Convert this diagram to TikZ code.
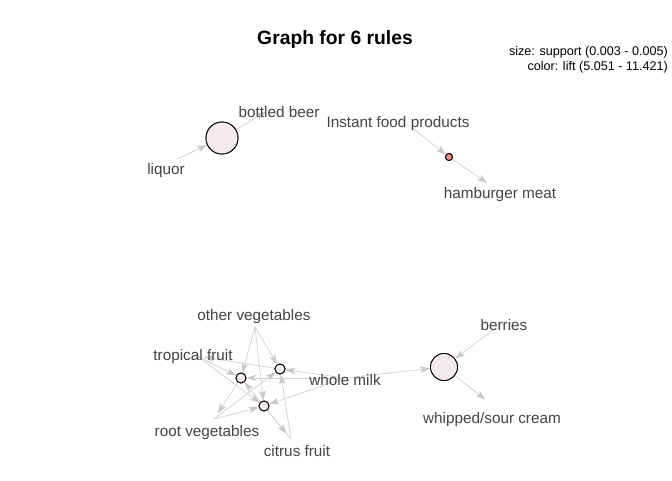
\documentclass[tikz,border=0pt]{standalone}
\usepackage{fontspec}
\setmainfont{Liberation Sans}
\usetikzlibrary{arrows.meta}
\definecolor{edgegray}{HTML}{D3D3D3}
\definecolor{tipgray}{HTML}{C8C8C8}
\definecolor{labgray}{HTML}{444444}
\definecolor{rulefill}{HTML}{F4ECEC}
\definecolor{hotfill}{HTML}{F08C8C}
\tikzset{
  rulenode/.style={circle,draw=black,line width=0.9pt,fill=rulefill,inner sep=0pt,minimum size=#1},
  itemlab/.style={text=labgray,font=\fontsize{15.3}{17}\selectfont,inner sep=0pt,yshift=-2pt},
  legendtxt/.style={font=\fontsize{12.6}{14}\selectfont,anchor=east,inner sep=0pt},
  edge/.style={draw=edgegray,line width=0.75pt,-{Stealth[length=10pt,width=6.5pt,inset=2.5pt,fill=tipgray,color=tipgray]}},
  outedge/.style={edge,shorten >=7pt},
}
\begin{document}
\begin{tikzpicture}[x=1pt,y=-1pt]
\useasboundingbox (0,0) rectangle (672,480);
\fill[white] (0,0) rectangle (672,480);
% title and legend
\node[font=\bfseries\fontsize{19.3}{21}\selectfont] (title) at (335,40) {Graph for 6 rules};
\node[legendtxt] (leg1) at (668,52) {size: support (0.003 - 0.005)};
\node[legendtxt] (leg2) at (668,67) {color: lift (5.051 - 11.421)};
% rule vertices
\node[rulenode=32pt] (A) at (222,138) {};
\node[rulenode=7pt,fill=hotfill] (B) at (449,157) {};
\node[rulenode=27pt] (C) at (444,367) {};
\node[rulenode=10pt] (R1) at (280,369) {};
\node[rulenode=10pt] (R2) at (241,378) {};
\node[rulenode=10pt] (R3) at (264,406) {};
% item vertices
\coordinate (vliq) at (177,159);
\coordinate (vbeer) at (272,108);
\coordinate (vinst) at (411,127);
\coordinate (vham) at (493,187);
\coordinate (vber) at (493,330);
\coordinate (vwhip) at (491,404);
\coordinate (vov) at (255,327);
\coordinate (vtrop) at (197,356);
\coordinate (vwm) at (345,378);
\coordinate (vroot) at (214,419);
\coordinate (vcit) at (291,439);
% edges
\draw[edge] (vliq) -- (A);
\draw[outedge] (A) -- (vbeer);
\draw[edge] (vinst) -- (B);
\draw[outedge] (B) -- (vham);
\draw[edge] (vber) -- (C);
\draw[edge] (vwm) -- (C);
\draw[outedge] (C) -- (vwhip);
% rule 1: {other veg, root veg, citrus, whole milk} -> tropical fruit
\draw[edge] (vov) -- (R1);
\draw[edge] (vroot) -- (R1);
\draw[edge] (vcit) -- (R1);
\draw[edge] (vwm) -- (R1);
\draw[outedge] (R1) -- (vtrop);
% rule 2: {other veg, tropical, citrus, whole milk} -> root veg
\draw[edge] (vov) -- (R2);
\draw[edge] (vtrop) -- (R2);
\draw[edge] (vcit) -- (R2);
\draw[edge] (vwm) -- (R2);
\draw[outedge] (R2) -- (vroot);
% rule 3: {other veg, tropical, root veg, whole milk} -> citrus
\draw[edge] (vov) -- (R3);
\draw[edge] (vtrop) -- (R3);
\draw[edge] (vroot) -- (R3);
\draw[edge] (vwm) -- (R3);
\draw[outedge] (R3) -- (vcit);
% redraw rule circles on top
\node[rulenode=32pt] at (A) {};
\node[rulenode=7pt,fill=hotfill] at (B) {};
\node[rulenode=27pt] at (C) {};
\node[rulenode=10pt] at (R1) {};
\node[rulenode=10pt] at (R2) {};
\node[rulenode=10pt] at (R3) {};
% labels
\node[itemlab] (lbeer) at (279,110) {bottled beer};
\node[itemlab] (lliq) at (166,169) {liquor};
\node[itemlab] (linst) at (398,122) {Instant food products};
\node[itemlab] (lham) at (500,193) {hamburger meat};
\node[itemlab] (lov) at (254,315) {other vegetables};
\node[itemlab] (ltrop) at (193,355) {tropical fruit};
\node[itemlab] (lwm) at (345,378) {whole milk};
\node[itemlab] (lroot) at (207,431) {root vegetables};
\node[itemlab] (lcit) at (297,449) {citrus fruit};
\node[itemlab] (lber) at (504,323) {berries};
\node[itemlab] (lwhip) at (492,418) {whipped/sour cream};
\end{tikzpicture}
\end{document}
